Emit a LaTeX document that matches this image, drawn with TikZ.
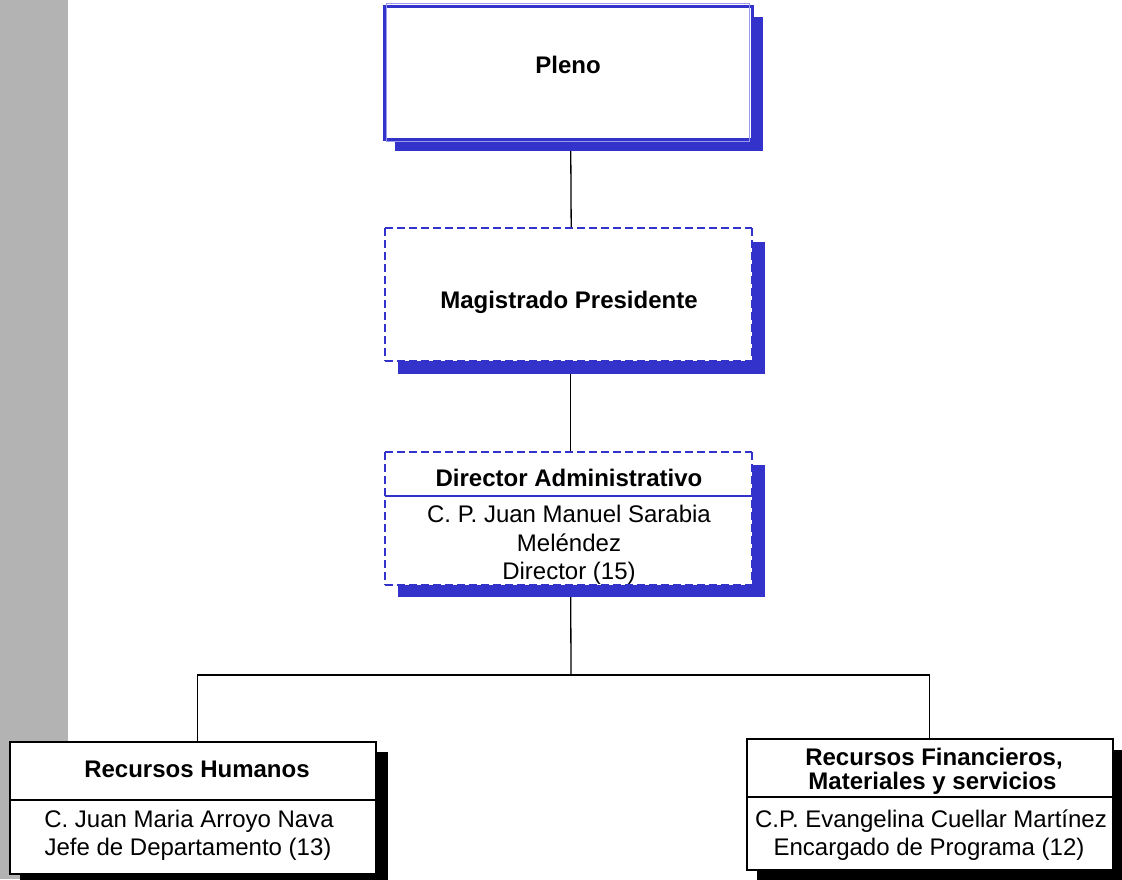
\documentclass[tikz,border=0pt]{standalone}
\usepackage{fontspec}
\setmainfont{Liberation Sans}
\definecolor{orgblue}{HTML}{3333CC}
\definecolor{lightblue}{HTML}{9999EE}
\definecolor{bargray}{HTML}{B3B3B3}
\begin{document}
\begin{tikzpicture}[x=1pt,y=-1pt,
  shadowblue/.style={fill=orgblue,draw=none},
  shadowblack/.style={fill=black,draw=none},
  place/.style={rectangle,anchor=north west,inner sep=0pt},
  dashedge/.style={orgblue,line width=2pt,dash pattern=on 8pt off 4pt},
  lbl/.style={anchor=base,inner sep=0pt,font=\fontsize{24}{28}\selectfont},
  blbl/.style={lbl,font=\fontsize{24}{28}\selectfont\bfseries},
  conn/.style={draw=black,line width=1.3pt}]
\useasboundingbox (0,0) rectangle (1122,879);
\fill[bargray] (0,0) rectangle (68,879);

% box placements
\path (384,6) node[place,minimum width=368pt,minimum height=133pt] (pleno) {};
\path (385,228) node[place,minimum width=367pt,minimum height=133pt] (mag) {};
\path (385,452) node[place,minimum width=367pt,minimum height=133pt] (dir) {};
\path (10,742) node[place,minimum width=366pt,minimum height=132pt] (rh) {};
\path (747,739) node[place,minimum width=366pt,minimum height=131pt] (rf) {};
\coordinate (bus) at (571,675);

% connectors
\draw[conn] ([xshift=2.5pt]pleno.south) -- ([xshift=2.5pt]mag.north);
\draw[conn] ([xshift=2pt]mag.south) -- ([xshift=2pt]dir.north);
\draw[conn] ([xshift=2pt]dir.south) -- (bus);
\draw[conn] ([xshift=4pt]rh.north) |- (bus) -| ([xshift=-1pt]rf.north);

% shadows
\fill[shadowblue] (395,17) rectangle (763,151);
\fill[shadowblue] (398,242) rectangle (765,374);
\fill[shadowblue] (398,465) rectangle (765,597);
\fill[shadowblack] (20,752) rectangle (388,884);
\fill[shadowblack] (757,750) rectangle (1123,880);

% boxes
\fill[white] (pleno.north west) rectangle (pleno.south east);
\draw[orgblue,line width=3pt] (pleno.north west) rectangle (pleno.south east);
\draw[lightblue,line width=1pt] ([shift={(2.5pt,2.5pt)}]pleno.north west) rectangle ([shift={(-2.5pt,-2.5pt)}]pleno.south east);

\fill[white] (mag.north west) rectangle (mag.south east);
\draw[dashedge] (mag.north west) -- (mag.north east);
\draw[dashedge] (mag.north west) -- (mag.south west);
\draw[dashedge] (mag.south west) -- (mag.south east);
\draw[dashedge] (mag.north east) -- (mag.south east);

\fill[white] (dir.north west) rectangle (dir.south east);
\draw[dashedge] (dir.north west) -- (dir.north east);
\draw[dashedge] (dir.north west) -- (dir.south west);
\draw[dashedge] (dir.south west) -- (dir.south east);
\draw[dashedge] (dir.north east) -- (dir.south east);
\draw[orgblue,line width=1.4pt] (dir.west |- 0,496) -- (dir.east |- 0,496);

\fill[white] (rh.north west) rectangle (rh.south east);
\draw[black,line width=2pt] (rh.north west) rectangle (rh.south east);
\draw[black,line width=1.5pt] (rh.west |- 0,800) -- (rh.east |- 0,800);

\fill[white] (rf.north west) rectangle (rf.south east);
\draw[black,line width=2pt] (rf.north west) rectangle (rf.south east);
\draw[black,line width=1.5pt] (rf.west |- 0,797) -- (rf.east |- 0,797);

% texts
\node[blbl] (tpleno) at (568,73) {Pleno};
\node[blbl] (tmag) at (569,308) {Magistrado Presidente};
\node[blbl] (tdir) at (569,486) {Director Administrativo};
\node[lbl] (tdir1) at (569,522) {C. P. Juan Manuel Sarabia};
\node[lbl] (tdir2) at (569,551) {Meléndez};
\node[lbl] (tdir3) at (569,579) {Director (15)};
\node[blbl] (trh) at (197,777) {Recursos Humanos};
\node[lbl] (trh1) at (189,827) {C. Juan Maria Arroyo Nava};
\node[lbl] (trh2) at (188,855) {Jefe de Departamento (13)};
\node[blbl] (trf1) at (934,765) {Recursos Financieros,};
\node[blbl] (trf2) at (932.5,789) {Materiales y servicios};
\node[lbl] (trf3) at (931,827) {C.P. Evangelina Cuellar Martínez};
\node[lbl] (trf4) at (929,855) {Encargado de Programa (12)};
\end{tikzpicture}
\end{document}
